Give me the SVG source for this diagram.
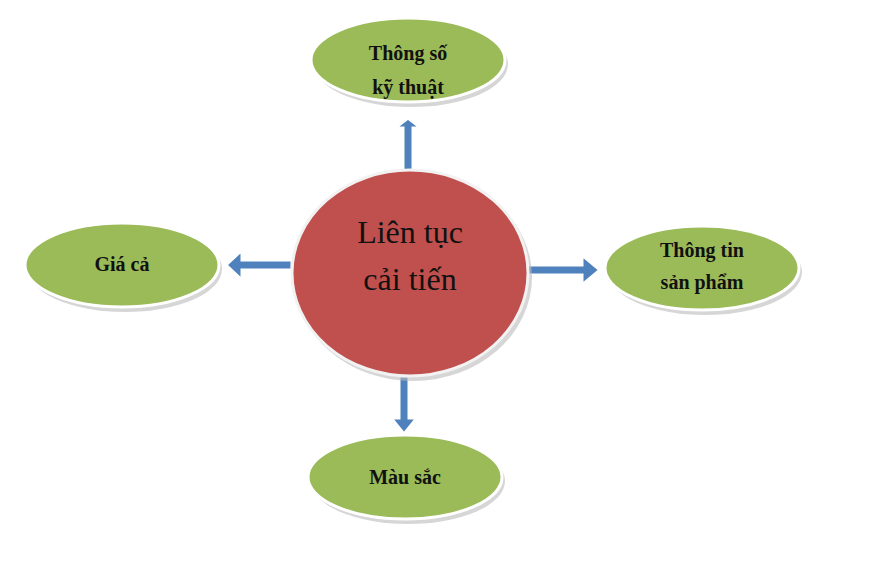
<svg xmlns="http://www.w3.org/2000/svg" width="880" height="588" viewBox="0 0 880 588">
<style>
.n{fill:#9bbb59;stroke:#fff;stroke-width:3}
.sh{fill:#bbb;opacity:.6}
.t{font-family:"Liberation Serif",serif;font-weight:bold;font-size:20px;fill:#111;text-anchor:middle}
.c{font-family:"Liberation Serif",serif;font-size:32px;fill:#111;text-anchor:middle}
.a{fill:#4f81bd;stroke:#fff;stroke-width:3;stroke-linejoin:miter}
.ao{fill:none;stroke:#ccc;stroke-width:1}
</style>
<rect width="880" height="588" fill="#fff"/>
<g id="connectors">
<path class="a" d="M403,180 V128 H395 L408,118 L421,128 H413 V180 Z"/>
<path class="a" d="M292,260 H242 V250 L226,265 L242,280 V270 H292 Z"/>
<path class="a" d="M526,265 H582 V255 L600,270 L582,285 V275 H526 Z"/>
<path class="a" d="M399,376 V418 H391 L404,434 L417,418 H409 V376 Z"/>
</g>
<g id="center">
<ellipse class="sh" cx="413" cy="277" rx="119" ry="104"/>
<ellipse cx="410" cy="273" rx="118" ry="103" fill="#c0504d" stroke="#f2f2f2" stroke-width="3"/>
<text class="c" x="410" y="243">Liên tục</text>
<text class="c" x="410" y="290">cải tiến</text>
</g>
<g id="top">
<ellipse class="sh" cx="411" cy="64" rx="97" ry="43"/>
<ellipse class="n" cx="408" cy="60" rx="97" ry="42"/>
<text class="t" x="408" y="60">Thông số</text>
<text class="t" x="408" y="94">kỹ thuật</text>
</g>
<g id="left">
<ellipse class="sh" cx="125" cy="269" rx="97" ry="43"/>
<ellipse class="n" cx="122" cy="265" rx="97" ry="42"/>
<text class="t" x="122" y="271">Giá cả</text>
</g>
<g id="right">
<ellipse class="sh" cx="705" cy="272" rx="97" ry="43"/>
<ellipse class="n" cx="702" cy="268" rx="97" ry="42"/>
<text class="t" x="702" y="257">Thông tin</text>
<text class="t" x="702" y="289">sản phẩm</text>
</g>
<g id="bottom">
<ellipse class="sh" cx="408" cy="481" rx="97" ry="43"/>
<ellipse class="n" cx="405" cy="477" rx="97" ry="42"/>
<text class="t" x="405" y="484">Màu sắc</text>
</g>
</svg>
